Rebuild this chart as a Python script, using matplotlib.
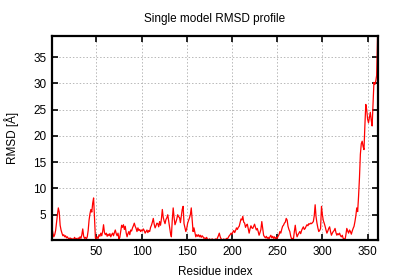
import matplotlib
matplotlib.use("Agg")
import matplotlib.pyplot as plt

plt.rcParams['font.family'] = ['Liberation Sans', 'DejaVu Sans']

rmsd = [
    2.5, 1.5, 0.8, 1.2, 2.0, 3.5, 5.0, 6.3, 5.5, 3.0,
    2.1, 1.5, 1.0, 1.2, 0.8, 1.0, 0.6, 0.8, 0.5, 0.4,
    0.6, 0.3, 0.5, 0.2, 0.4, 0.7, 0.3, 0.5, 0.2, 0.6,
    0.4, 0.8, 0.5, 1.2, 2.3, 0.9, 0.5, 0.7, 0.4, 0.8,
    2.0, 4.0, 5.2, 6.0, 5.5, 7.2, 8.2, 4.5, 0.6, 0.3,
    0.8, 0.5, 1.2, 0.9, 1.5, 1.0, 1.8, 3.1, 1.6, 1.2,
    1.5, 0.9, 1.3, 1.0, 1.4, 0.8, 1.2, 1.5, 1.0, 1.6,
    2.1, 1.4, 1.0, 1.5, 0.4, 0.7, 1.8, 3.0, 2.6, 3.1,
    2.2, 2.8, 1.6, 0.8, 1.4, 1.8, 1.2, 2.1, 1.9, 2.5,
    2.9, 3.4, 2.8, 2.4, 1.8, 2.5, 2.0, 2.2, 1.8, 2.1,
    1.9, 2.3, 2.0, 1.5, 1.8, 2.1, 1.6, 2.0, 1.8, 2.6,
    3.0, 3.6, 4.3, 3.2, 2.5, 2.9, 3.4, 3.3, 2.7, 3.7,
    3.0, 4.2, 6.0, 4.5, 3.8, 3.3, 4.1, 4.4, 5.0, 3.8,
    2.5, 1.5, 0.8, 4.0, 6.3, 4.5, 3.1, 3.6, 4.2, 5.0,
    4.6, 4.5, 3.5, 4.8, 6.0, 6.6, 3.3, 2.5, 1.8, 2.4,
    3.4, 3.9, 4.4, 5.0, 6.3, 4.0, 1.8, 2.5, 1.6, 0.8,
    1.2, 0.9, 1.2, 0.8, 1.1, 0.7, 1.0, 0.8, 0.5, 0.6,
    0.4, 0.7, 0.3, 0.2, 0.4, 0.3, 0.2, 0.4, 0.3, 0.2,
    0.3, 0.4, 0.2, 0.6, 1.0, 1.5, 0.8, 0.4, 0.3, 0.2,
    0.4, 0.2, 0.3, 0.5, 0.4, 0.7, 1.0, 1.2, 1.5, 1.3,
    1.7, 2.0, 1.6, 2.0, 2.5, 2.2, 2.6, 2.8, 3.5, 4.2,
    4.0, 4.7, 3.6, 3.4, 2.6, 3.0, 3.2, 2.4, 1.5, 2.3,
    2.9, 2.5, 2.4, 2.8, 3.2, 2.6, 2.1, 2.4, 1.8, 1.1,
    1.6, 2.2, 3.7, 2.4, 1.1, 0.8, 0.6, 0.9, 0.5, 0.7,
    0.4, 0.8, 1.1, 0.6, 0.9, 0.5, 0.8, 0.4, 0.7, 0.5,
    0.9, 1.2, 1.8, 1.5, 2.2, 2.8, 3.0, 3.4, 3.6, 4.3,
    4.0, 2.8, 2.2, 1.8, 0.9, 0.4, 0.5, 0.4, 1.8, 3.0,
    1.6, 0.8, 1.2, 1.5, 1.8, 1.4, 2.0, 2.4, 2.7, 2.2,
    2.4, 2.8, 3.1, 2.9, 3.3, 3.2, 3.4, 3.3, 3.5, 3.7,
    4.8, 6.9, 4.6, 3.4, 2.5, 1.8, 2.0, 2.4, 6.6, 5.0,
    3.9, 3.4, 2.8, 2.1, 1.5, 1.9, 2.4, 2.7, 1.8, 1.1,
    1.5, 1.8, 2.0, 2.4, 1.6, 1.1, 1.4, 1.2, 1.5, 1.0,
    0.8, 1.1, 0.5, 0.4, 0.2, 1.2, 2.4, 1.9, 1.5, 2.1,
    1.8, 1.3, 1.9, 2.4, 2.8, 3.7, 4.8, 6.3, 5.6, 8.5,
    12.0, 16.5, 18.5, 19.0, 18.0, 17.4, 22.0, 26.0, 25.0, 23.2,
    22.5, 23.5, 24.5, 23.0, 21.9, 26.0, 30.2, 29.8, 30.4, 31.5,
    39.0,
]
residues = list(range(1, len(rmsd) + 1))

x_ticks = [50, 100, 150, 200, 250, 300, 350]
y_ticks = [5, 10, 15, 20, 25, 30, 35]

fig = plt.figure(figsize=(4.0, 2.8), dpi=100)
ax = fig.add_axes([0.13, 0.143, 0.815, 0.728])
ax.plot(residues, rmsd, color='#ff0000', lw=0.9)

ax.set_xlim(1, 361.5)
ax.set_ylim(0.2, 39)
ax.set_xticks(x_ticks)
ax.set_yticks(y_ticks)
ax.grid(True, color='#b8b8b8', linestyle=(0, (1.5, 2)), linewidth=0.7)
ax.tick_params(direction='in', length=4, width=1.2, top=True, right=True,
               labelsize=8.5, pad=4, colors='black')
for s in ax.spines.values():
    s.set_linewidth(1.6)

ax.set_title('Single model RMSD profile', fontsize=8.5, pad=10)
ax.set_xlabel('Residue index', fontsize=8.5, labelpad=6)
ax.set_ylabel('RMSD [Å]', fontsize=8.5, labelpad=10)

fig.savefig('out.png', dpi=100)
